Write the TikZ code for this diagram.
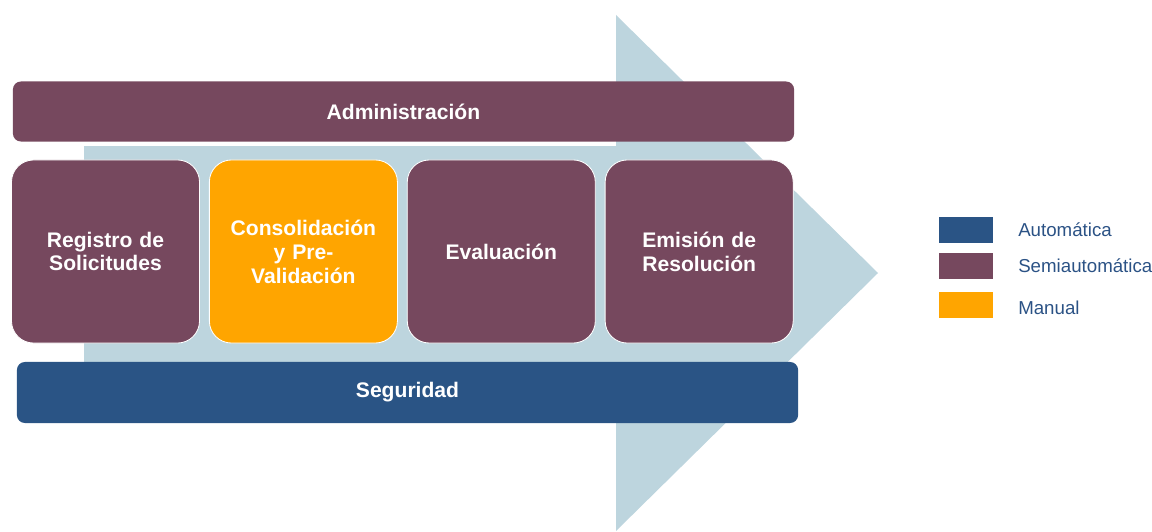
\documentclass[tikz,border=0pt]{standalone}
\usepackage{fontspec}
\setmainfont{Liberation Sans}
\usetikzlibrary{positioning}

\definecolor{semiauto}{HTML}{76485E}
\definecolor{manual}{HTML}{FFA500}
\definecolor{automat}{HTML}{2A5485}
\definecolor{flecha}{HTML}{BDD5DE}
\definecolor{leyenda}{HTML}{2B5285}

\begin{document}
\begin{tikzpicture}[
    x=0.025cm,
    y=-0.025cm,
    node distance=0.225cm,
    band/.style={
        rectangle,
        rounded corners=0.2cm,
        minimum width=19.525cm,
        minimum height=1.5cm,
        text=white,
        font=\fontsize{15}{17}\selectfont\bfseries
    },
    phase/.style={
        rectangle,
        draw=white,
        line width=0.6pt,
        rounded corners=0.55cm,
        minimum width=4.7cm,
        minimum height=4.575cm,
        text width=4.4cm,
        align=center,
        text=white,
        font=\fontsize{15}{17}\selectfont\bfseries
    },
    swatch/.style={
        rectangle,
        minimum width=1.35cm,
        minimum height=0.65cm
    },
    legendtext/.style={
        right=0.5cm of #1,
        text=leyenda,
        font=\fontsize{13.3}{15}\selectfont
    }
]
\useasboundingbox (0,0) rectangle (1152,532);

% Background arrow
\fill[flecha] (84,146) -- (616,146) -- (616,15) -- (878,273) -- (616,531)
    -- (616,380) -- (84,380) -- cycle;

% Top and bottom bands
\node[band, fill=semiauto] (admin) at (403.5,111.5) {Administración};
\node[band, fill=automat, minimum height=1.525cm] (seg) at (407.5,392.5) {Seguridad};

% Phases
\node[phase, fill=semiauto] (registro) at (105.5,251.5) {Registro de\\Solicitudes};
\node[phase, fill=manual, right=of registro] (consol) {Consolidación\\y Pre-\\Validación};
\node[phase, fill=semiauto, right=of consol] (eval) {Evaluación};
\node[phase, fill=semiauto, right=of eval] (emision) {Emisión de\\Resolución};

% Legend
\node[swatch, fill=automat] (lauto) at (966,230) {};
\node[swatch, fill=semiauto] (lsemi) at (966,266) {};
\node[swatch, fill=manual] (lman) at (966,305) {};
\node[legendtext=lauto] (tauto) {Automática};
\node[legendtext=lsemi] (tsemi) {Semiautomática};
\node[legendtext=lman, yshift=-0.07cm] (tman) {Manual};

\end{tikzpicture}
\end{document}
